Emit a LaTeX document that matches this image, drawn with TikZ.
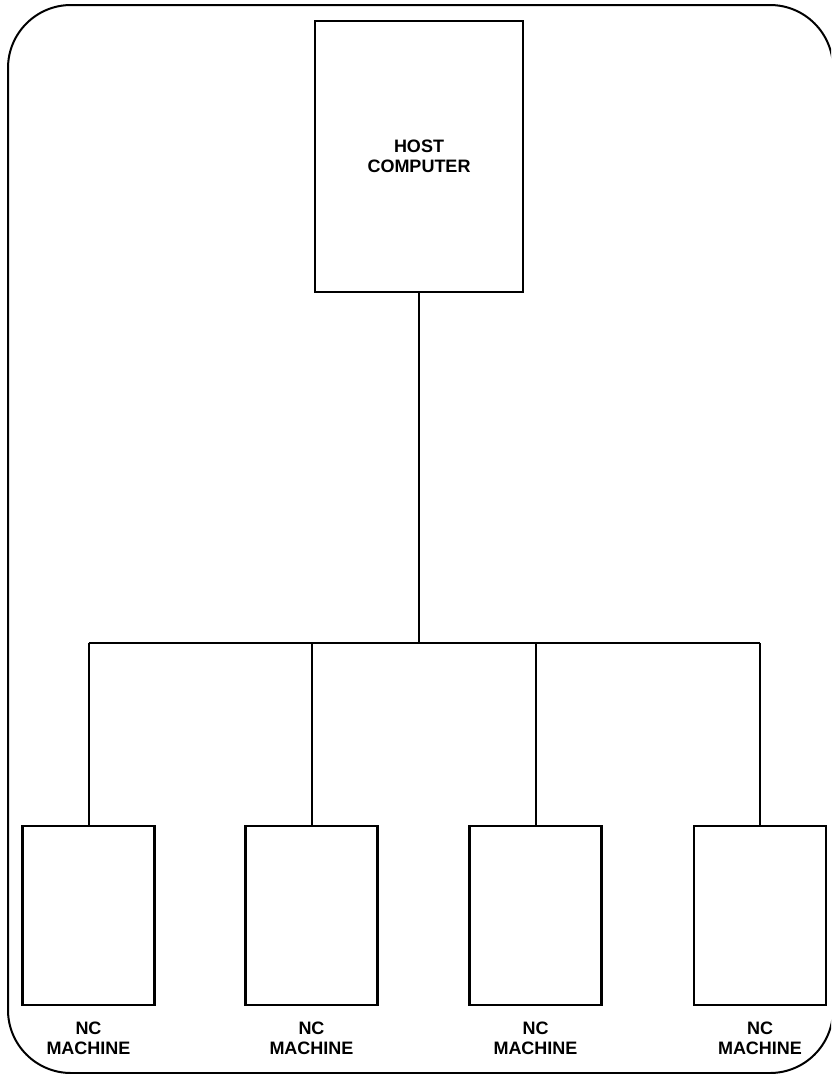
\documentclass[tikz,border=0pt]{standalone}
\usepackage{fontspec}
\setmainfont{Liberation Sans}
\usetikzlibrary{positioning}
\newcommand{\lblfont}{\fontsize{18pt}{20pt}\selectfont\bfseries}
\begin{document}
\begin{tikzpicture}[x=1pt,y=-1pt,
    box/.style={draw,line width=2.6pt,inner sep=0pt},
    mach/.style={box,minimum width=132pt,minimum height=179pt},
    lbl/.style={align=center,font=\lblfont},
    wire/.style={line width=2pt}]
                \clip (0,0) rectangle (831,1074);
                \draw[line width=2pt,rounded corners=63pt] (8,5) rectangle (833,1073);
                \node[box,minimum width=208pt,minimum height=271pt,lbl] (host) at (419,156.5) {HOST\\COMPUTER};
                \coordinate (bus) at (419,643);
                \foreach \i/\x in {1/88.5,2/311.5,3/535.5,4/760}{
                    \node[mach] (m\i) at (\x,915.5) {};
                    \node[lbl,below=12pt of m\i] (t\i) {NC\\MACHINE};
                    \draw[wire] (m\i.north) -- (m\i.north |- bus);
                }
                \draw[wire] (host.south) -- (bus);
                \draw[wire] (m1.north |- bus) -- (m4.north |- bus);
            \end{tikzpicture}
\end{document}
